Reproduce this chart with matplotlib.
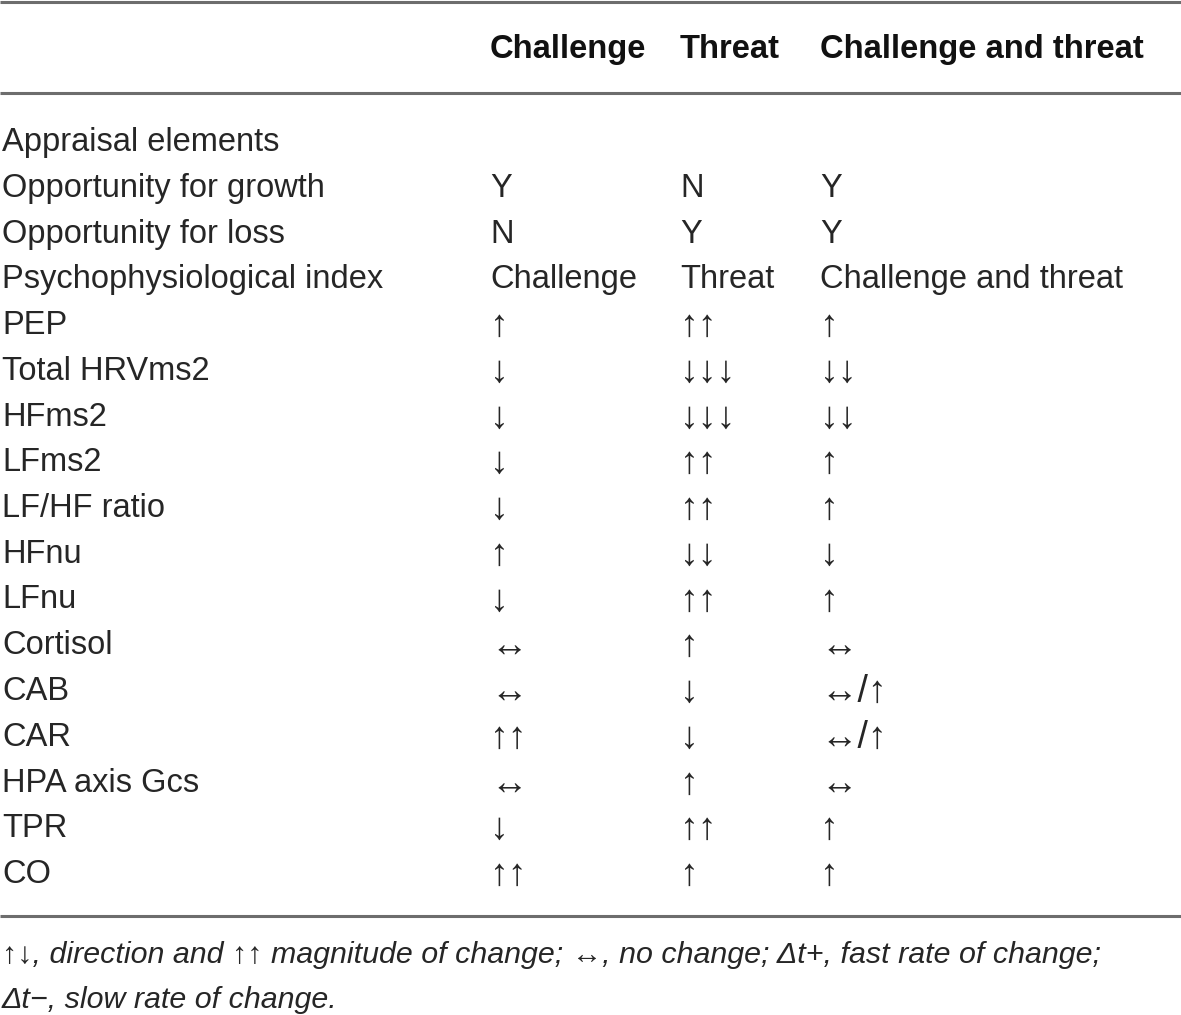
import matplotlib
matplotlib.use("Agg")
import matplotlib.pyplot as plt

# table content
headers = ["Challenge", "Threat", "Challenge and threat"]
rows = ["Appraisal elements", "Opportunity for growth", "Opportunity for loss",
        "Psychophysiological index", "PEP", "Total HRVms2", "HFms2", "LFms2",
        "LF/HF ratio", "HFnu", "LFnu", "Cortisol", "CAB", "CAR", "HPA axis Gcs",
        "TPR", "CO"]
challenge = ["", "Y", "N", "Challenge", "↑", "↓", "↓", "↓", "↓", "↑", "↓",
             "↔", "↔", "↑↑", "↔", "↓", "↑↑"]
threat = ["", "N", "Y", "Threat", "↑↑", "↓↓↓", "↓↓↓", "↑↑", "↑↑", "↓↓", "↑↑",
          "↑", "↓", "↓", "↑", "↑↑", "↑"]
both = ["", "Y", "Y", "Challenge and threat", "↑", "↓↓", "↓↓", "↑", "↑", "↓", "↑",
        "↔", "↔/↑", "↔/↑", "↔", "↑", "↑"]
footnote = ["↑↓, direction and ↑↑ magnitude of change; ↔, no change; Δt+, fast rate of change;",
            "Δt−, slow rate of change."]

W, H = 1181, 1015
fig = plt.figure(figsize=(W / 100, H / 100), dpi=100)
ax = fig.add_axes([0, 0, 1, 1])
ax.set_xlim(0, W)
ax.set_ylim(H, 0)
ax.axis("off")

fam = ["Liberation Sans", "DejaVu Sans"]
col_x = [2, 490, 680, 820]
line_col = "#6d6d6d"
txt_col = "#262626"

for y in (2, 93, 916):
    ax.plot([0, W], [y, y], color=line_col, lw=2.2, solid_capstyle="butt")

for x, h in zip(col_x[1:], headers):
    ax.text(x, 58, h, family=fam, fontsize=23.6, fontweight="bold",
            ha="left", va="baseline", color="#111111")

y0, step = 151, 45.75
for i, name in enumerate(rows):
    y = y0 + i * step
    for x, val in zip(col_x, [name, challenge[i], threat[i], both[i]]):
        if not val:
            continue
        is_arrow = any(c in val for c in "↑↓↔")
        ax.text(x, y + (2 if is_arrow else 0), val, family=fam,
                fontsize=27 if is_arrow else 23.5, ha="left",
                va="baseline", color=txt_col)

for j, line in enumerate(footnote):
    ax.text(2, 963 + j * 45, line, family=fam, fontsize=21.9, style="italic",
            ha="left", va="baseline", color=txt_col)

fig.savefig("out.png", dpi=100, facecolor="white")
